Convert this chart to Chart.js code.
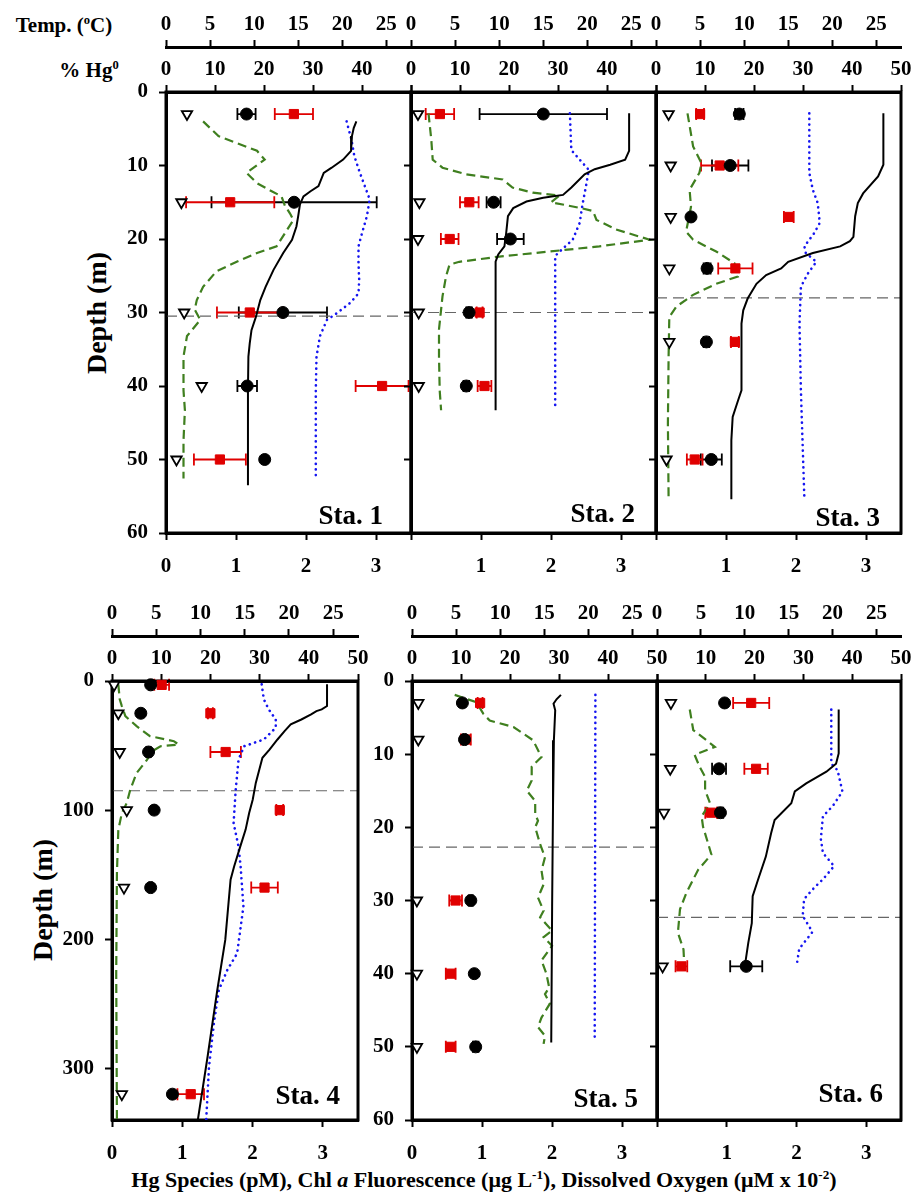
<!DOCTYPE html>
<html>
<head>
<meta charset="utf-8">
<script src="https://cdn.jsdelivr.net/npm/chart.js@4.4.1/dist/chart.umd.min.js"></script>
<style>
  body { margin: 0; background: #fff; width: 914px; height: 1203px; position: relative; overflow: hidden; font-family: "Liberation Serif", serif; }
  canvas { position: absolute; }
  .lbl { position: absolute; font-weight: bold; color: #000; white-space: nowrap; transform: translate(-50%, -50%); }
  .lbl sup { font-size: 0.6em; }
</style>
</head>
<body>
<div class="lbl" style="left:64px;top:25px;font-size:21px">Temp. (<sup>o</sup>C)</div>
<div class="lbl" style="left:89px;top:70px;font-size:21px">% Hg<sup>0</sup></div>
<div class="lbl" style="left:97px;top:313px;font-size:28px;transform:translate(-50%,-50%) rotate(-90deg)">Depth (m)</div>
<div class="lbl" style="left:43px;top:900px;font-size:28px;transform:translate(-50%,-50%) rotate(-90deg)">Depth (m)</div>
<div class="lbl" style="left:484px;top:1180px;font-size:22px">Hg Species (pM), Chl <i>a</i> Fluorescence (&mu;g L<sup>-1</sup>), Dissolved Oxygen (&mu;M x 10<sup>-2</sup>)</div>

<script>
// --- Station 1 ---
const sta1Depth = [3, 15, 30, 40, 50];
const sta1Hg = [1.15, 1.83, 1.67, 1.16, 1.41];
const sta1HgErr = [0.13, 1.18, 0.63, 0.14, 0];
const sta1Pct = [26.1, 13.1, 17.1, 44.1, 11.0];
const sta1PctErr = [3.9, 9.0, 6.7, 5.4, 5.3];
const sta1Tri = [0.30, 0.22, 0.26, 0.51, 0.15];
const sta1TempDepth = [4.0, 4.9, 6.0, 8.0, 9.2, 10.3, 11.0, 12.8, 13.5, 14.2, 15.3, 16.9, 18.3, 20.1, 21.9, 24.2, 26.5, 28.3, 30.6, 32.4, 34.2, 36.0, 40.6, 53.5];
const sta1Temp = [21.6, 21.3, 21.1, 21.0, 20.1, 18.8, 17.9, 17.3, 16.4, 15.6, 15.2, 15.0, 14.8, 14.3, 13.3, 12.2, 11.3, 10.7, 10.2, 9.7, 9.5, 9.35, 9.3, 9.3];
const sta1ChlDepth = [4.0, 6.0, 8.0, 9.2, 11.0, 12.4, 13.5, 14.2, 15.5, 16.5, 17.4, 19.2, 21.0, 21.9, 23.1, 24.4, 26.5, 28.3, 29.6, 31.0, 33.2, 36.0, 40.6, 43.3, 47.4, 52.6];
const sta1Chl = [0.53, 0.75, 1.30, 1.41, 1.15, 1.30, 1.51, 1.65, 1.70, 1.77, 1.82, 1.70, 1.58, 1.30, 1.01, 0.72, 0.53, 0.44, 0.41, 0.49, 0.30, 0.25, 0.25, 0.27, 0.25, 0.25];
const sta1O2Depth = [4.0, 6.5, 8.7, 11.0, 12.8, 14.6, 16.9, 19.2, 21.0, 23.3, 25.6, 27.4, 28.7, 30.1, 31.0, 33.2, 36.0, 40.6, 52.8];
const sta1O2 = [2.58, 2.65, 2.69, 2.77, 2.84, 2.91, 2.87, 2.80, 2.75, 2.75, 2.76, 2.75, 2.63, 2.44, 2.30, 2.20, 2.15, 2.14, 2.14];
const sta1Mld = 30.5;

// --- Station 2 ---
const sta2Depth = [3, 15, 20, 30, 40];
const sta2Hg = [1.89, 1.18, 1.42, 0.83, 0.79];
const sta2HgErr = [0.91, 0.10, 0.19, 0.04, 0.04];
const sta2Pct = [5.9, 11.9, 7.9, 14.0, 15.0];
const sta2PctErr = [2.9, 1.9, 1.8, 0.6, 1.4];
const sta2Tri = [0.10, 0.12, 0.10, 0.11, 0.11];
const sta2TempDepth = [2.9, 8.0, 9.2, 9.9, 10.5, 11.2, 13.0, 14.0, 14.4, 14.9, 15.8, 16.9, 19.2, 21.0, 22.1, 23.1, 43.3];
const sta2Temp = [24.75, 24.75, 24.3, 22.6, 20.85, 19.7, 18.2, 17.25, 15.0, 13.1, 11.6, 11.0, 10.8, 10.6, 9.9, 9.6, 9.6];
const sta2ChlDepth = [2.9, 6.5, 9.2, 10.3, 11.2, 11.9, 13.0, 13.7, 14.1, 15.0, 15.8, 16.2, 17.4, 18.7, 20.1, 21.0, 21.7, 22.4, 23.1, 23.5, 25.1, 27.8, 29.6, 32.3, 36.0, 40.6, 43.3];
const sta2Chl = [0.25, 0.29, 0.31, 0.45, 0.79, 1.31, 1.45, 1.74, 2.12, 2.00, 2.43, 2.60, 2.65, 2.93, 3.41, 2.69, 1.98, 1.26, 0.69, 0.55, 0.50, 0.45, 0.43, 0.40, 0.40, 0.41, 0.43];
const sta2O2Depth = [2.9, 7.9, 9.2, 10.6, 12.8, 15.3, 17.8, 20.1, 21.3, 22.3, 43.3];
const sta2O2 = [2.27, 2.29, 2.41, 2.54, 2.50, 2.45, 2.41, 2.31, 2.17, 2.06, 2.06];
const sta2Mld = 30;

// --- Station 3 ---
const sta3Depth = [3, 10, 17, 24, 34, 50];
const sta3Hg = [1.19, 1.06, 0.50, 0.73, 0.72, 0.79];
const sta3HgErr = [0.06, 0.26, 0, 0.05, 0.04, 0.15];
const sta3Pct = [9.0, 13.0, 27.1, 16.2, 16.1, 7.9];
const sta3PctErr = [0.8, 3.8, 1.0, 3.5, 0.8, 1.6];
const sta3Tri = [0.18, 0.21, 0.21, 0.19, 0.19, 0.15];
const sta3TempDepth = [2.9, 9.9, 11.5, 13.8, 15.1, 16.9, 19.7, 20.3, 21.0, 21.9, 23.1, 24.0, 24.9, 26.1, 28.1, 29.7, 31.5, 40.6, 42.0, 44.2, 47.4, 55.4];
const sta3Temp = [25.8, 25.8, 25.2, 23.5, 22.9, 22.6, 22.4, 22.0, 20.9, 17.8, 15.0, 14.2, 12.5, 11.4, 10.4, 9.9, 9.7, 9.7, 9.3, 8.7, 8.55, 8.55];
const sta3ChlDepth = [2.9, 7.4, 9.7, 11.0, 13.3, 15.6, 19.0, 20.1, 21.7, 23.3, 25.1, 26.1, 27.6, 29.2, 30.6, 36.0, 45.1, 55.4];
const sta3Chl = [0.45, 0.53, 0.65, 0.62, 0.48, 0.50, 0.43, 0.53, 0.86, 1.12, 1.17, 0.86, 0.53, 0.29, 0.19, 0.18, 0.17, 0.18];
const sta3O2Depth = [2.9, 11.0, 13.3, 15.1, 17.8, 19.2, 21.0, 21.9, 23.1, 24.7, 26.5, 31.5, 40.6, 55.4];
const sta3O2 = [2.19, 2.19, 2.24, 2.31, 2.34, 2.26, 2.12, 2.14, 2.29, 2.17, 2.07, 2.05, 2.07, 2.12];
const sta3Mld = 28;

// --- Station 4 ---
const sta4Depth = [3, 25, 55, 100, 160, 320];
const sta4Hg = [0.55, 0.41, 0.52, 0.60, 0.55, 0.86];
const sta4HgErr = [0.02, 0, 0.03, 0, 0.02, 0];
const sta4Pct = [10.1, 20.0, 23.1, 34.1, 31.0, 16.0];
const sta4PctErr = [1.5, 0.5, 3.1, 0.7, 2.7, 2.7];
const sta4Tri = [0.03, 0.09, 0.11, 0.21, 0.17, 0.14];
const sta4TempDepth = [2.6, 19.4, 22.0, 23.3, 25.9, 29.8, 33.6, 38.8, 45.3, 53.1, 59.5, 68.6, 78.9, 91.9, 102.2, 115.1, 128.1, 143.6, 153.9, 200.5, 239.3, 291.0, 340];
const sta4Temp = [24.3, 24.3, 23.7, 23.1, 22.5, 21.4, 20.2, 19.5, 18.7, 17.8, 17.0, 16.65, 16.25, 15.9, 15.5, 15.1, 14.5, 13.8, 13.4, 12.8, 11.9, 10.8, 9.7];
const sta4ChlDepth = [2.6, 14.2, 19.4, 27.2, 35.0, 42.7, 46.6, 49.2, 50.5, 54.4, 60.9, 71.3, 84.2, 94.5, 102.3, 115.2, 148.9, 226.5, 340];
const sta4Chl = [0.09, 0.11, 0.14, 0.19, 0.35, 0.54, 0.88, 0.95, 0.69, 0.57, 0.50, 0.35, 0.26, 0.21, 0.14, 0.09, 0.07, 0.06, 0.07];
const sta4O2Depth = [2.6, 14.2, 22.0, 29.8, 36.2, 45.3, 50.5, 60.9, 84.2, 110.1, 128.1, 143.6, 174.7, 211, 223.9, 239.3, 265.2, 298.9, 340];
const sta4O2 = [2.13, 2.16, 2.23, 2.33, 2.33, 2.16, 1.88, 1.80, 1.76, 1.73, 1.80, 1.83, 1.87, 1.78, 1.64, 1.52, 1.45, 1.38, 1.34];
const sta4Mld = 85;

// --- Station 5 ---
const sta5Depth = [3, 8, 30, 40, 50];
const sta5Hg = [0.72, 0.75, 0.84, 0.89, 0.91];
const sta5HgErr = [0, 0.02, 0.03, 0, 0.04];
const sta5Pct = [13.9, 11.0, 8.9, 7.9, 7.9];
const sta5PctErr = [0.5, 1.0, 1.3, 1.0, 1.0];
const sta5Tri = [0.09, 0.09, 0.07, 0.07, 0.07];
const sta5TempDepth = [1.9, 2.5, 3.1, 4.0, 8.1, 17.2, 30.8, 49.4];
const sta5Temp = [16.9, 16.4, 16.06, 16.25, 16.1, 16.0, 15.9, 15.8];
const sta5ChlDepth = [1.9, 2.9, 4.5, 5.4, 6.3, 8.1, 10.4, 11.7, 13.6, 15.0, 16.4, 18.2, 19.1, 20.0, 22.3, 24.1, 25.9, 27.8, 29.6, 31.4, 32.3, 34.1, 35.0, 36.2, 38.2, 40.0, 41.9, 42.8, 44.1, 46.0, 47.3, 48.5, 49.6];
const sta5Chl = [0.61, 0.92, 1.02, 1.11, 1.45, 1.73, 1.85, 1.71, 1.71, 1.64, 1.76, 1.76, 1.80, 1.76, 1.83, 1.90, 1.85, 1.88, 1.80, 1.88, 1.83, 2.00, 1.88, 2.00, 1.85, 1.92, 1.96, 1.90, 1.97, 1.85, 1.80, 1.90, 1.88];
const sta5O2Depth = [1.9, 49.3];
const sta5O2 = [2.62, 2.61];
const sta5Mld = 22.7;

// --- Station 6 ---
const sta6Depth = [3, 12, 18, 39];
const sta6Hg = [0.97, 0.89, 0.91, 1.28];
const sta6HgErr = [0, 0.10, 0.04, 0.23];
const sta6Pct = [19.3, 20.3, 11.1, 5.0];
const sta6PctErr = [3.7, 2.4, 1.2, 1.2];
const sta6Tri = [0.20, 0.19, 0.10, 0.08];
const sta6TempDepth = [3.9, 9.9, 11.3, 12.4, 14.0, 15.1, 16.7, 19.0, 20.8, 24.0, 27.2, 29.4, 33.1, 35.8, 39.0];
const sta6Temp = [20.7, 20.7, 20.4, 19.3, 17.0, 15.7, 15.3, 13.4, 13.0, 12.4, 11.5, 10.9, 10.8, 10.4, 10.0];
const sta6ChlDepth = [3.9, 6.7, 9.0, 10.1, 11.7, 13.1, 14.9, 16.7, 18.5, 19.9, 23.7, 25.8, 29.0, 31.2, 34.4, 36.7, 40.3];
const sta6Chl = [0.47, 0.52, 0.83, 0.54, 0.61, 0.69, 0.69, 0.76, 0.64, 0.66, 0.78, 0.59, 0.42, 0.33, 0.30, 0.38, 0.40];
const sta6O2Depth = [3.9, 11.3, 12.2, 15.1, 17.1, 18.5, 21.6, 23.5, 25.3, 27.1, 28.2, 29.8, 32.1, 34.3, 36.6, 39.1];
const sta6O2 = [2.50, 2.50, 2.59, 2.66, 2.52, 2.38, 2.35, 2.38, 2.54, 2.38, 2.26, 2.11, 2.09, 2.23, 2.04, 2.00];
const sta6Mld = 32.3;

// axis ticks
const hgTicks = [0, 1, 2, 3];
const tempTicks = [0, 5, 10, 15, 20, 25];
const pctTicks = [0, 10, 20, 30, 40, 50];
const depthTicks60 = [0, 10, 20, 30, 40, 50, 60];
const depthTicks340 = [0, 100, 200, 300];

const Y_W = 60, TOP_T = 47, TOP_P = 45, BOT_H = 50, PAD_R = 26;
const TICK_FONT = { family: 'Liberation Serif', size: 21, weight: 'bold' };

const zip = (xs, ys) => xs.map((x, i) => ({ x: x, y: ys[i] }));

function axis(pos, min, max, ticks, hide, size, pad, extra) {
  return Object.assign({
    type: 'linear', position: pos, min: min, max: max,
    grid: { drawOnChartArea: false, drawTicks: true, tickLength: 7, tickWidth: 2, tickColor: '#000' },
    border: { display: true, color: '#000', width: 3 },
    ticks: {
      font: TICK_FONT, color: '#000', padding: pad, autoSkip: false, maxRotation: 0,
      callback: v => hide.includes(v) ? '' : String(v)
    },
    afterBuildTicks: s => { s.ticks = ticks.map(v => ({ value: v })); },
    afterFit: s => {
      if (s.isHorizontal()) s.height = size; else s.width = size;
      s.paddingLeft = s.paddingRight = s.paddingTop = s.paddingBottom = 0;
    }
  }, extra || {});
}

const errorBars = {
  id: 'errorBars',
  beforeDatasetsDraw(chart) {
    const ctx = chart.ctx;
    chart.data.datasets.forEach(ds => {
      if (!ds.xErr) return;
      const xs = chart.scales[ds.xAxisID], ys = chart.scales[ds.yAxisID];
      ctx.save();
      ctx.strokeStyle = ds.errColor;
      ctx.lineWidth = 1.8;
      ds.data.forEach((pt, j) => {
        const e = ds.xErr[j];
        if (!e) return;
        const y = ys.getPixelForValue(pt.y);
        const x1 = xs.getPixelForValue(pt.x - e), x2 = xs.getPixelForValue(pt.x + e);
        ctx.beginPath();
        ctx.moveTo(x1, y); ctx.lineTo(x2, y);
        ctx.moveTo(x1, y - 6); ctx.lineTo(x1, y + 6);
        ctx.moveTo(x2, y - 6); ctx.lineTo(x2, y + 6);
        ctx.stroke();
      });
      ctx.restore();
    });
  }
};

const frameMld = {
  id: 'frameMld',
  beforeDatasetsDraw(chart, args, opts) {
    const ctx = chart.ctx, a = chart.chartArea;
    ctx.save();
    const y = chart.scales.y.getPixelForValue(opts.depth);
    ctx.strokeStyle = '#666';
    ctx.lineWidth = 1.2;
    ctx.setLineDash([11, 6]);
    ctx.beginPath(); ctx.moveTo(a.left, y); ctx.lineTo(a.right, y); ctx.stroke();
    ctx.setLineDash([]);
    ctx.strokeStyle = '#000';
    ctx.lineWidth = 3;
    ctx.strokeRect(a.left, a.top, a.right - a.left, a.bottom - a.top);
    ctx.restore();
  },
  afterDatasetsDraw(chart, args, opts) {
    const ctx = chart.ctx, a = chart.chartArea;
    ctx.save();
    ctx.font = 'bold 27px "Liberation Serif"';
    ctx.fillStyle = '#000';
    ctx.textAlign = 'right';
    ctx.textBaseline = 'alphabetic';
    ctx.fillText(opts.name, a.right - opts.dx, a.bottom - opts.dy);
    ctx.restore();
  }
};

function makePanel(p) {
  const c = document.createElement('canvas');
  const w = Y_W + p.w + PAD_R, h = TOP_T + TOP_P + p.h + BOT_H;
  c.width = w; c.height = h;
  c.style.left = (p.left - Y_W) + 'px';
  c.style.top = (p.top - TOP_T - TOP_P) + 'px';
  c.style.width = w + 'px';
  c.style.height = h + 'px';
  document.body.appendChild(c);

  new Chart(c, {
    type: 'scatter',
    data: {
      datasets: [
        { label: 'DMHg', data: zip(p.tri, p.depth), xAxisID: 'x', yAxisID: 'y', order: 1, clip: false,
          pointStyle: 'triangle', pointRotation: 180, pointRadius: 6,
          pointBackgroundColor: '#fff', pointBorderColor: '#000', pointBorderWidth: 1.8 },
        { label: 'Hg0', data: zip(p.hg, p.depth), xAxisID: 'x', yAxisID: 'y', order: 2, clip: false,
          xErr: p.hgErr, errColor: '#000',
          pointStyle: 'circle', pointRadius: 6, pointBackgroundColor: '#000', pointBorderColor: '#000' },
        { label: '% Hg0', data: zip(p.pct, p.depth), xAxisID: 'xP', yAxisID: 'y', order: 3, clip: false,
          xErr: p.pctErr, errColor: '#e00000',
          pointStyle: 'rect', pointRadius: 6.5, pointBackgroundColor: '#e00000', pointBorderColor: '#e00000' },
        { label: 'Temperature', data: zip(p.temp, p.tempDepth), xAxisID: 'xT', yAxisID: 'y', order: 6,
          showLine: true, borderColor: '#000', borderWidth: 2, pointRadius: 0 },
        { label: 'Chl a', data: zip(p.chl, p.chlDepth), xAxisID: 'x', yAxisID: 'y', order: 7,
          showLine: true, borderColor: '#3f7f1f', borderWidth: 2.2, borderDash: [9, 5], pointRadius: 0 },
        { label: 'Dissolved O2', data: zip(p.o2, p.o2Depth), xAxisID: 'x', yAxisID: 'y', order: 8,
          showLine: true, borderColor: '#1515f0', borderWidth: 2.6, borderDash: [0.1, 5.5],
          borderCapStyle: 'round', pointRadius: 0 }
      ]
    },
    options: {
      responsive: false,
      animation: false,
      events: [],
      layout: { autoPadding: false, padding: { left: 0, right: PAD_R, top: 0, bottom: 0 } },
      plugins: {
        legend: { display: false },
        tooltip: { enabled: false },
        frameMld: { depth: p.mld, name: p.name, dx: p.dx, dy: p.dy }
      },
      scales: {
        x: axis('bottom', 0, 3.5, hgTicks, p.hideHg, BOT_H, 14),
        xP: axis('top', 0, 50, pctTicks, p.hidePct, TOP_P, 3, { weight: 0 }),
        xT: axis('top', 0, 27.8, tempTicks, [], TOP_T, 3, { weight: 1 }),
        y: axis('left', 0, p.maxDepth, p.depthTicks, p.hideDepth, Y_W, 11, { reverse: true })
      }
    },
    plugins: [errorBars, frameMld]
  });
}

const all60 = depthTicks60.slice();
const panels = [
  { name: 'Sta. 1', left: 166, top: 92, w: 245, h: 441, maxDepth: 60, depthTicks: depthTicks60, hideDepth: [],
    hideHg: [], hidePct: [50], dx: 28, dy: 9,
    depth: sta1Depth, hg: sta1Hg, hgErr: sta1HgErr, pct: sta1Pct, pctErr: sta1PctErr, tri: sta1Tri,
    temp: sta1Temp, tempDepth: sta1TempDepth, chl: sta1Chl, chlDepth: sta1ChlDepth, o2: sta1O2, o2Depth: sta1O2Depth, mld: sta1Mld },
  { name: 'Sta. 2', left: 411, top: 92, w: 245, h: 441, maxDepth: 60, depthTicks: depthTicks60, hideDepth: all60,
    hideHg: [0], hidePct: [50], dx: 21, dy: 11,
    depth: sta2Depth, hg: sta2Hg, hgErr: sta2HgErr, pct: sta2Pct, pctErr: sta2PctErr, tri: sta2Tri,
    temp: sta2Temp, tempDepth: sta2TempDepth, chl: sta2Chl, chlDepth: sta2ChlDepth, o2: sta2O2, o2Depth: sta2O2Depth, mld: sta2Mld },
  { name: 'Sta. 3', left: 656, top: 92, w: 245, h: 441, maxDepth: 60, depthTicks: depthTicks60, hideDepth: all60,
    hideHg: [0], hidePct: [], dx: 21, dy: 7,
    depth: sta3Depth, hg: sta3Hg, hgErr: sta3HgErr, pct: sta3Pct, pctErr: sta3PctErr, tri: sta3Tri,
    temp: sta3Temp, tempDepth: sta3TempDepth, chl: sta3Chl, chlDepth: sta3ChlDepth, o2: sta3O2, o2Depth: sta3O2Depth, mld: sta3Mld },
  { name: 'Sta. 4', left: 112, top: 681, w: 246, h: 439, maxDepth: 340, depthTicks: depthTicks340, hideDepth: [],
    hideHg: [], hidePct: [], dx: 18, dy: 16,
    depth: sta4Depth, hg: sta4Hg, hgErr: sta4HgErr, pct: sta4Pct, pctErr: sta4PctErr, tri: sta4Tri,
    temp: sta4Temp, tempDepth: sta4TempDepth, chl: sta4Chl, chlDepth: sta4ChlDepth, o2: sta4O2, o2Depth: sta4O2Depth, mld: sta4Mld },
  { name: 'Sta. 5', left: 412, top: 681, w: 245, h: 439, maxDepth: 60, depthTicks: depthTicks60, hideDepth: [],
    hideHg: [], hidePct: [], dx: 19, dy: 13,
    depth: sta5Depth, hg: sta5Hg, hgErr: sta5HgErr, pct: sta5Pct, pctErr: sta5PctErr, tri: sta5Tri,
    temp: sta5Temp, tempDepth: sta5TempDepth, chl: sta5Chl, chlDepth: sta5ChlDepth, o2: sta5O2, o2Depth: sta5O2Depth, mld: sta5Mld },
  { name: 'Sta. 6', left: 657, top: 681, w: 244, h: 439, maxDepth: 60, depthTicks: depthTicks60, hideDepth: all60,
    hideHg: [0], hidePct: [0], dx: 18, dy: 18,
    depth: sta6Depth, hg: sta6Hg, hgErr: sta6HgErr, pct: sta6Pct, pctErr: sta6PctErr, tri: sta6Tri,
    temp: sta6Temp, tempDepth: sta6TempDepth, chl: sta6Chl, chlDepth: sta6ChlDepth, o2: sta6O2, o2Depth: sta6O2Depth, mld: sta6Mld }
];

panels.forEach(makePanel);
</script>
</body>
</html>
